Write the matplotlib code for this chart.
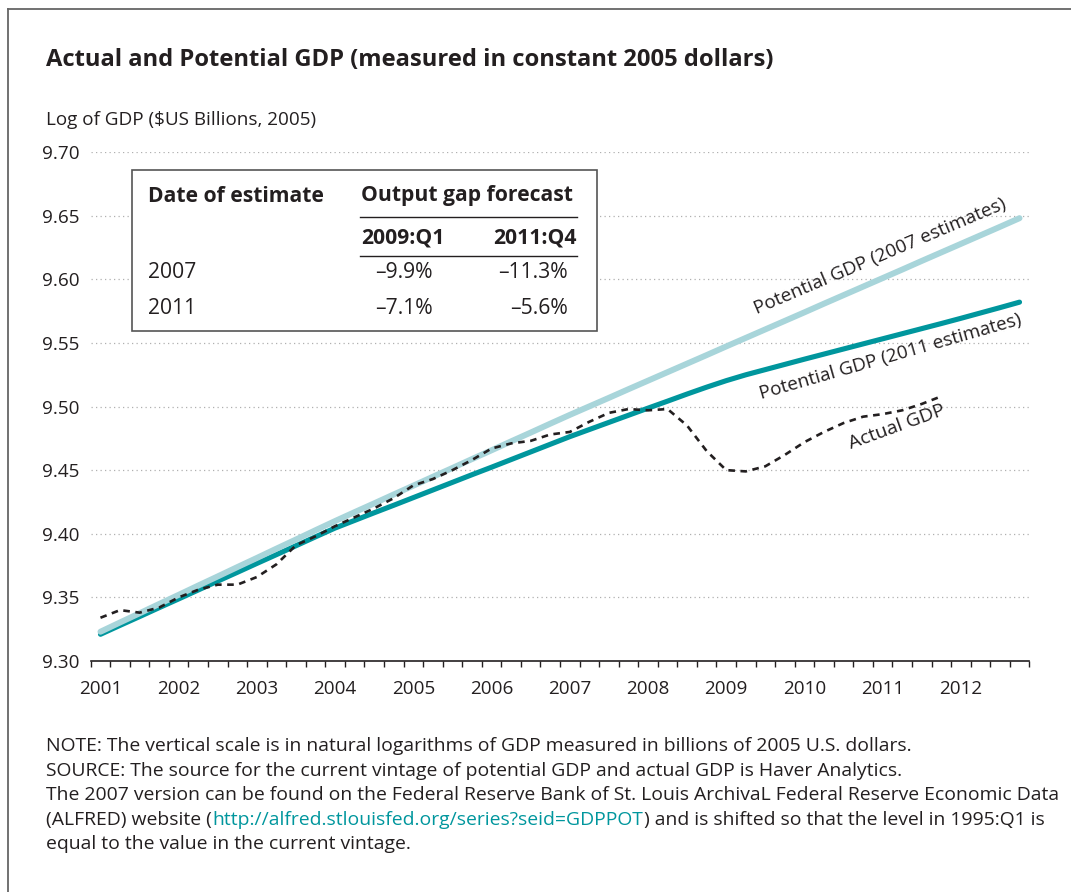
import matplotlib
matplotlib.use('Agg')
import matplotlib.pyplot as plt
from matplotlib.patches import Rectangle
from matplotlib.lines import Line2D

# ---------------- data (log of GDP, quarterly) ----------------
years = list(range(2001, 2013))
quarters = [f"{y}:Q{q}" for y in years for q in range(1, 5)]  # 2001:Q1 .. 2012:Q4

potential_2007 = [
    9.3230, 9.3303, 9.3375, 9.3448, 9.3520, 9.3593, 9.3665, 9.3738,
    9.3810, 9.3883, 9.3955, 9.4028, 9.4100, 9.4170, 9.4239, 9.4309,
    9.4378, 9.4448, 9.4517, 9.4587, 9.4656, 9.4726, 9.4795, 9.4865,
    9.4934, 9.5001, 9.5068, 9.5136, 9.5203, 9.5270, 9.5337, 9.5404,
    9.5472, 9.5539, 9.5606, 9.5673, 9.5740, 9.5808, 9.5875, 9.5942,
    9.6009, 9.6076, 9.6144, 9.6211, 9.6278, 9.6345, 9.6412, 9.6480,
]
potential_2011 = [
    9.3210, 9.3280, 9.3349, 9.3419, 9.3488, 9.3558, 9.3628, 9.3697,
    9.3767, 9.3836, 9.3906, 9.3976, 9.4045, 9.4105, 9.4165, 9.4224,
    9.4284, 9.4344, 9.4404, 9.4464, 9.4523, 9.4583, 9.4643, 9.4703,
    9.4763, 9.4819, 9.4875, 9.4931, 9.4987, 9.5042, 9.5098, 9.5152,
    9.5203, 9.5249, 9.5290, 9.5331, 9.5372, 9.5412, 9.5452, 9.5492,
    9.5532, 9.5572, 9.5612, 9.5652, 9.5693, 9.5735, 9.5777, 9.5820,
]
actual_gdp = [  # ends 2011:Q4
    9.334, 9.340, 9.338, 9.342, 9.350, 9.356, 9.360, 9.360,
    9.366, 9.376, 9.391, 9.398, 9.406, 9.413, 9.420, 9.428,
    9.438, 9.443, 9.450, 9.458, 9.467, 9.471, 9.473, 9.478,
    9.480, 9.488, 9.495, 9.498, 9.497, 9.498, 9.485, 9.465,
    9.450, 9.449, 9.453, 9.462, 9.472, 9.480, 9.487, 9.492,
    9.494, 9.497, 9.502, 9.508,
]

y_ticks = [9.30, 9.35, 9.40, 9.45, 9.50, 9.55, 9.60, 9.65, 9.70]

table_header = ["Date of estimate", "Output gap forecast"]
table_periods = ["2009:Q1", "2011:Q4"]
table_rows = ["2007", "2011"]
table_values = [["\u20139.9%", "\u201311.3%"], ["\u20137.1%", "\u20135.6%"]]

notes = [
    "NOTE: The vertical scale is in natural logarithms of GDP measured in billions of 2005 U.S. dollars.",
    "SOURCE: The source for the current vintage of potential GDP and actual GDP is Haver Analytics.",
    "The 2007 version can be found on the Federal Reserve Bank of St. Louis ArchivaL Federal Reserve Economic Data",
    ["(ALFRED) website (", "http://alfred.stlouisfed.org/series?seid=GDPPOT",
     ") and is shifted so that the level in 1995:Q1 is"],
    "equal to the value in the current vintage.",
]

# ---------------- style ----------------
W, H = 1071, 892
TEXT = "#231f20"
TEAL = "#00969d"
LIGHT = "#a8d5da"
plt.rcParams['font.family'] = ['Open Sans', 'DejaVu Sans']
plt.rcParams['text.color'] = TEXT


def qpos(label):
    # centre of the quarter on a continuous year scale
    y, q = label.split(":Q")
    return int(y) + (int(q) - 1) / 4 + 0.125


def fx(px):
    return px / W


def fy(py):
    return 1 - py / H


fig = plt.figure(figsize=(W / 100, H / 100), dpi=100)
fig.patch.set_facecolor("white")
renderer = fig.canvas.get_renderer()


def fit(t, width_px):
    # scale a text so its rendered width matches the reference width
    rot = t.get_rotation()
    t.set_rotation(0)
    bb = t.get_window_extent(renderer)
    t.set_fontsize(t.get_fontsize() * width_px / bb.width)
    t.set_rotation(rot)
    return t.get_fontsize()


# outer frame (left and top edges visible)
fig.add_artist(Line2D([fx(7.5), fx(7.5)], [fy(8.5), 0], transform=fig.transFigure,
                      color="#666666", lw=1.3))
fig.add_artist(Line2D([fx(7.5), 1], [fy(8.5), fy(8.5)], transform=fig.transFigure,
                      color="#666666", lw=1.3))

t = fig.text(fx(46), fy(60), "Actual and Potential GDP (measured in constant 2005 dollars)",
             fontsize=14.5, fontweight="bold", va="center", ha="left")
fit(t, 729)
t = fig.text(fx(46), fy(120), "Log of GDP ($US Billions, 2005)", fontsize=12.5,
             va="center", ha="left")
base = fit(t, 272)

ax = fig.add_axes([fx(90.7), fy(661), fx(1029.3) - fx(90.7), fy(152) - fy(661)])
ax.set_xlim(2001, 2013)
ax.set_ylim(9.30, 9.70)

x_all = [qpos(q) for q in quarters]
ax.plot(x_all, potential_2011, color=TEAL, lw=3.7, solid_capstyle="round", zorder=3)
ax.plot(x_all, potential_2007, color=LIGHT, lw=4.3, solid_capstyle="round", zorder=4)
ax.plot(x_all[:len(actual_gdp)], actual_gdp, color=TEXT, lw=1.9,
        linestyle=(0, (2.5, 2.1)), zorder=5)

for v in y_ticks[1:]:
    ax.axhline(v, color="#b0b0b0", lw=0.9, linestyle=(0, (1, 2.6)), zorder=1)

for s in ["top", "right", "left"]:
    ax.spines[s].set_visible(False)
ax.spines["bottom"].set_color(TEXT)
ax.spines["bottom"].set_linewidth(1.2)

ax.set_yticks(y_ticks)
ax.set_yticklabels([f"{v:.2f}" for v in y_ticks], fontsize=base, color=TEXT)
ax.tick_params(axis="y", length=0, pad=8)

ax.set_xticks([qpos(f"{y}:Q1") for y in years])
ax.set_xticklabels([str(y) for y in years], fontsize=base, color=TEXT)
ax.set_xticks([y + q / 4 for y in years for q in range(4)] + [2013], minor=True)
ax.tick_params(axis="x", which="major", length=0, pad=14)
ax.tick_params(axis="x", which="minor", length=4.5, width=1.0, color=TEXT, direction="out")

# line labels
t = ax.text(2011.09, 9.6176, "Potential GDP (2007 estimates)", rotation=23, fontsize=base,
            ha="center", va="center", rotation_mode="anchor")
fit(t, 272)
t = ax.text(2011.22, 9.539, "Potential GDP (2011 estimates)", rotation=16, fontsize=base,
            ha="center", va="center", rotation_mode="anchor")
fit(t, 272)
t = ax.text(2011.31, 9.484, "Actual GDP", rotation=20, fontsize=base,
            ha="center", va="center", rotation_mode="anchor")
fit(t, 101)

# ---------------- inset table ----------------
fig.add_artist(Rectangle((fx(131.5), fy(331)), fx(597) - fx(131.5), fy(170) - fy(331),
                         transform=fig.transFigure, facecolor="white",
                         edgecolor="#555555", lw=1.2, zorder=6))
tkw = dict(va="center", zorder=7)
t = fig.text(fx(148), fy(196), table_header[0], fontweight="bold", ha="left",
             fontsize=12.8, **tkw)
tsize = fit(t, 175)
fig.text(fx(361), fy(196), table_header[1], fontweight="bold", ha="left",
         fontsize=tsize, **tkw)
for yy in [216.5, 255.5]:
    fig.add_artist(Line2D([fx(360), fx(577)], [fy(yy), fy(yy)], transform=fig.transFigure,
                          color=TEXT, lw=1.0, zorder=7))
col_right = [445, 577]
val_right = [433, 568]
for j, p in enumerate(table_periods):
    fig.text(fx(col_right[j]), fy(238), p, fontweight="bold", ha="right", fontsize=tsize, **tkw)
for i, r in enumerate(table_rows):
    yy = 273 + i * 36
    fig.text(fx(148), fy(yy), r, ha="left", fontsize=tsize, **tkw)
    for j, v in enumerate(table_values[i]):
        fig.text(fx(val_right[j]), fy(yy), v, ha="right", fontsize=tsize, **tkw)

# ---------------- notes ----------------
t = fig.text(0, 0, notes[2], fontsize=11.6)
nsize = fit(t, 1020)
t.remove()
for i, line in enumerate(notes):
    yy = fy(746 + i * 24.6)
    if isinstance(line, str):
        fig.text(fx(46), yy, line, fontsize=nsize, va="center", ha="left")
    else:
        x = fx(46)
        for k, part in enumerate(line):
            t = fig.text(x, yy, part, fontsize=nsize, va="center", ha="left",
                         color=TEAL if k == 1 else TEXT)
            bb = t.get_window_extent(renderer)
            x = fx(bb.x1 + 0.5)

fig.savefig("out.png", dpi=100)
